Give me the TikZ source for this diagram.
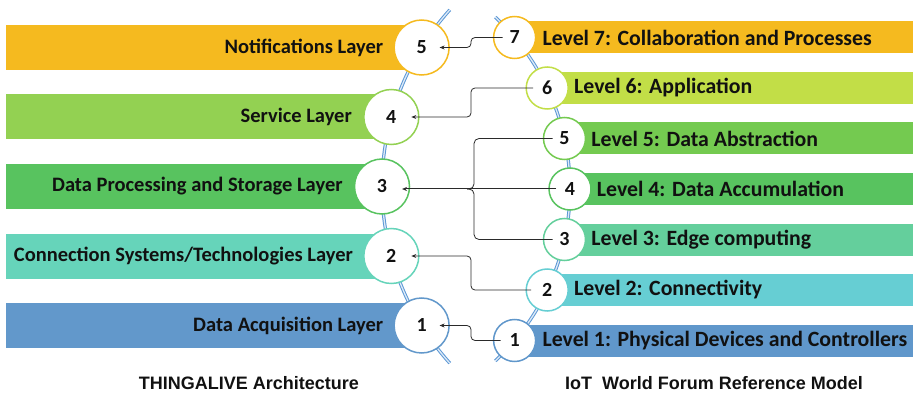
\documentclass[tikz,border=0pt]{standalone}
\usepackage{fontspec}
\setmainfont{Carlito}
\newfontfamily\titlefont{Liberation Sans}
\usetikzlibrary{positioning, arrows.meta, calc, backgrounds}
\definecolor{notifFill}{HTML}{F5BA1F}
\definecolor{serviceFill}{HTML}{93D152}
\definecolor{procFill}{HTML}{58C35F}
\definecolor{connFill}{HTML}{66D4BA}
\definecolor{acqFill}{HTML}{6298CB}
\definecolor{lvlSeven}{HTML}{F5BA1F}
\definecolor{lvlSix}{HTML}{C2DE47}
\definecolor{lvlFive}{HTML}{74CA50}
\definecolor{lvlFour}{HTML}{58C35F}
\definecolor{lvlThree}{HTML}{64CF9C}
\definecolor{lvlTwo}{HTML}{66CED3}
\definecolor{lvlOne}{HTML}{6097CB}
\definecolor{chainBlue}{HTML}{5B97D5}
\definecolor{arrowColor}{HTML}{2A2A2A}
\definecolor{textMain}{HTML}{111111}
\tikzset{
  numcircle/.style={
    circle, fill=white, line width=1.5pt, inner sep=0pt,
    font=\bfseries\fontsize{20}{24}\selectfont, text=textMain,
  },
  leftcircle/.style={numcircle, minimum size=55pt},
  rightcircle/.style={numcircle, minimum size=42pt},
  leftlabel/.style={
    inner sep=0pt, font=\bfseries\fontsize{20.5}{24}\selectfont, text=textMain,
  },
  rightlabel/.style={
    inner sep=0pt, font=\bfseries\fontsize{21.8}{26}\selectfont, text=textMain,
  },
  chainline/.style={
    draw=chainBlue, double=chainBlue!20, double distance=1.3pt, line width=1pt,
  },
  stdarrow/.style={
    -{Stealth[length=5pt, width=4pt]}, line width=0.8pt, color=arrowColor,
    rounded corners=4pt,
  },
  braceline/.style={line width=0.8pt, color=arrowColor, rounded corners=5pt},
  titlelabel/.style={
    font=\titlefont\bfseries\fontsize{18}{22}\selectfont, text=textMain,
  },
}

\begin{document}
\begin{tikzpicture}[x=1pt, y=1pt]
  \useasboundingbox (0,0) rectangle (915,394);

  % === THINGALIVE circles (left chain) ===
  \node[leftcircle, draw=notifFill] (L5) at (421.6,346.5) {5};
  \node[leftcircle, draw=serviceFill] (L4) at (391.3,277) {4};
  \node[leftcircle, draw=procFill] (L3) at (382,207.5) {3};
  \node[leftcircle, draw=connFill] (L2) at (391.3,138) {2};
  \node[leftcircle, draw=acqFill] (L1) at (421.6,68.5) {1};

  % === IoT WF circles (right chain) ===
  \node[rightcircle, draw=lvlSeven] (R7) at (514.6,356.5) {7};
  \node[rightcircle, draw=lvlSix] (R6) at (547.2,306) {6};
  \node[rightcircle, draw=lvlFive] (R5) at (564.5,255.5) {5};
  \node[rightcircle, draw=lvlFour] (R4) at (570,205) {4};
  \node[rightcircle, draw=lvlThree] (R3) at (564.5,154.5) {3};
  \node[rightcircle, draw=lvlTwo] (R2) at (547.2,104) {2};
  \node[rightcircle, draw=lvlOne] (R1) at (514.6,53.5) {1};

  % === Layer labels ===
  \node[leftlabel, left=10pt of L5] (notifTxt) {Notifications Layer};
  \node[leftlabel, left=11pt of L4] (serviceTxt) {Service Layer};
  \node[leftlabel, left=11pt of L3] (procTxt) {Data Processing and Storage Layer};
  \node[leftlabel, left=10pt of L2] (connTxt) {Connection Systems/Technologies Layer};
  \node[leftlabel, left=10pt of L1] (acqTxt) {Data Acquisition Layer};

  % === Level labels ===
  \node[rightlabel, right=6pt of R7] (lvlSevenTxt) {Level 7: Collaboration and Processes};
  \node[rightlabel, right=5pt of R6] (lvlSixTxt) {Level 6: Application};
  \node[rightlabel, right=5pt of R5] (lvlFiveTxt) {Level 5: Data Abstraction};
  \node[rightlabel, right=5pt of R4] (lvlFourTxt) {Level 4: Data Accumulation};
  \node[rightlabel, right=5pt of R3] (lvlThreeTxt) {Level 3: Edge computing};
  \node[rightlabel, right=5pt of R2] (lvlTwoTxt) {Level 2: Connectivity};
  \node[rightlabel, right=6pt of R1] (lvlOneTxt) {Level 1: Physical Devices and Controllers};

  % === Mapping arrows ===
  \coordinate (bus) at (471,0);
  \coordinate (brace) at (474,0);
  \coordinate (l3tip) at ([xshift=20pt]L3.center);
  \draw[stdarrow] ([xshift=-12pt]R7.center) -- (bus |- R7) |- ([xshift=18pt]L5.center);
  \draw[stdarrow] ([xshift=-14pt]R6.center) -- (bus |- R6) |- ([xshift=20pt]L4.center);
  \draw[braceline] ([xshift=-12pt]R5.center) -- (brace |- R5) -- (brace |- R4) -- ++(-7,0);
  \draw[braceline] ([xshift=-12pt]R3.center) -- (brace |- R3) -- (brace |- R4) -- ++(-7,0);
  \draw[stdarrow, line width=1pt] ([xshift=-14pt]R4.center) -- (l3tip |- R4);
  \draw[stdarrow] ([xshift=-16pt]R2.center) -- (bus |- R2) |- ([xshift=20pt]L2.center);
  \draw[stdarrow] ([xshift=-14pt]R1.center) -- (bus |- R1) |- ([xshift=18pt]L1.center);

  % === Titles ===
  \node[titlelabel] (thingTitle) at (249,11) {THINGALIVE Architecture};
  \node[titlelabel] (iotTitle) at (714,11) {IoT\ \ World Forum Reference Model};

  % === Bars and chains ===
  \begin{scope}[on background layer]
    \coordinate (lEdge) at (6,0);
    \coordinate (rEdge) at (913,0);
    \fill[notifFill] (lEdge |- L5) ++(0,-22.5) rectangle ([yshift=22.5pt]L5.center);
    \fill[serviceFill] (lEdge |- L4) ++(0,-22.5) rectangle ([yshift=22.5pt]L4.center);
    \fill[procFill] (lEdge |- L3) ++(0,-22.5) rectangle ([yshift=22.5pt]L3.center);
    \fill[connFill] (lEdge |- L2) ++(0,-22.5) rectangle ([yshift=22.5pt]L2.center);
    \fill[acqFill] (lEdge |- L1) ++(0,-22.5) rectangle ([yshift=22.5pt]L1.center);
    \fill[lvlSeven] (R7.center) ++(0,-16) rectangle ($(rEdge |- R7)+(0,16)$);
    \fill[lvlSix] (R6.center) ++(0,-16) rectangle ($(rEdge |- R6)+(0,16)$);
    \fill[lvlFive] (R5.center) ++(0,-16) rectangle ($(rEdge |- R5)+(0,16)$);
    \fill[lvlFour] (R4.center) ++(0,-16) rectangle ($(rEdge |- R4)+(0,16)$);
    \fill[lvlThree] (R3.center) ++(0,-16) rectangle ($(rEdge |- R3)+(0,16)$);
    \fill[lvlTwo] (R2.center) ++(0,-16) rectangle ($(rEdge |- R2)+(0,16)$);
    \fill[lvlOne] (R1.center) ++(0,-16) rectangle ($(rEdge |- R1)+(0,16)$);
    \draw[chainline] (646,207.5) ++(138:264) arc[start angle=138, end angle=222, radius=264];
    \draw[chainline] (335,205) ++(-47:235) arc[start angle=-47, end angle=47, radius=235];
  \end{scope}

\end{tikzpicture}
\end{document}
